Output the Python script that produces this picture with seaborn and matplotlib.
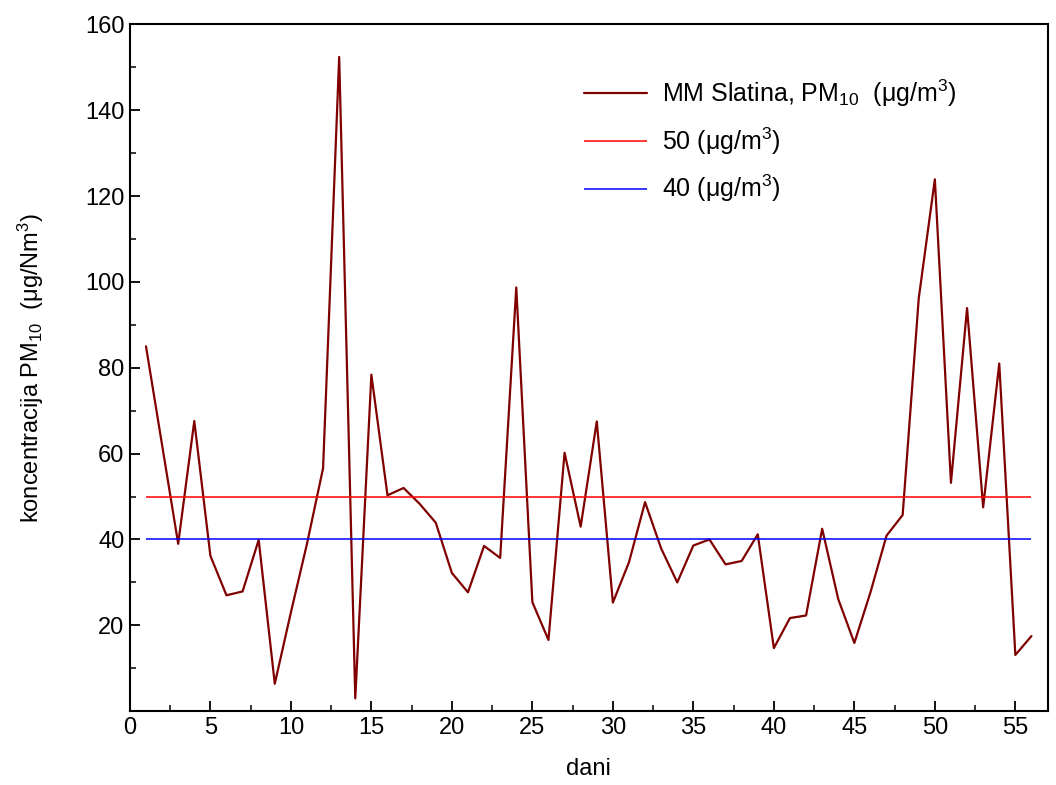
import seaborn as sns
import matplotlib.pyplot as plt
import pandas as pd
from matplotlib.ticker import MultipleLocator

# dnevne koncentracije PM10, MM Slatina (ocitano sa grafika)
dani = list(range(1, 57))
pm10 = [85.0, 62.0, 39.0, 67.6, 36.2, 27.0, 27.9, 39.9, 6.4, 23.0,
        39.0, 56.6, 152.4, 3.0, 78.4, 50.3, 52.0, 48.3, 43.9, 32.2,
        27.7, 38.5, 35.7, 98.7, 25.4, 16.6, 60.2, 43.0, 67.5, 25.3,
        34.7, 48.7, 37.9, 30.0, 38.6, 40.0, 34.2, 35.0, 41.2, 14.7,
        21.7, 22.3, 42.5, 26.1, 15.9, 27.7, 40.9, 45.7, 96.2, 123.9,
        53.2, 93.9, 47.5, 81.0, 13.1, 17.5]
granica_50 = 50
granica_40 = 40

df = pd.DataFrame({"dani": dani, "pm10": pm10})

sns.set_theme(style="ticks", rc={"text.color": "black", "axes.labelcolor": "black",
                                 "xtick.color": "black", "ytick.color": "black"})
plt.rcParams['font.family'] = ['Liberation Sans', 'DejaVu Sans']
plt.rcParams['mathtext.default'] = 'regular'
plt.rcParams['mathtext.fontset'] = 'custom'
plt.rcParams['mathtext.rm'] = 'Liberation Sans'

fig, ax = plt.subplots(figsize=(10.56, 7.85), dpi=100)
fig.subplots_adjust(left=0.123, right=0.992, top=0.969, bottom=0.094)

sns.lineplot(data=df, x="dani", y="pm10", color="#800000", linewidth=1.6,
             label="MM Slatina, PM$_{10}$  (μg/m$^3$)", ax=ax)
ax.hlines(granica_50, dani[0], dani[-1], color="#ff0000", linewidth=1.1,
          label="50 (μg/m$^3$)")
ax.hlines(granica_40, dani[0], dani[-1], color="#0000ff", linewidth=1.1,
          label="40 (μg/m$^3$)")

ax.set_xlim(0, 57)
ax.set_ylim(0, 160)
ax.xaxis.set_major_locator(MultipleLocator(5))
ax.xaxis.set_minor_locator(MultipleLocator(2.5))
ax.yaxis.set_major_locator(MultipleLocator(20))
ax.yaxis.set_minor_locator(MultipleLocator(10))
ax.set_yticks([20, 40, 60, 80, 100, 120, 140, 160])
ax.tick_params(which='major', direction='in', length=7, width=1.3, labelsize=17, pad=4)
ax.tick_params(which='minor', direction='in', length=4, width=1.1)
for s in ax.spines.values():
    s.set_linewidth(1.5)
    s.set_color('black')

ax.set_xlabel("dani", fontsize=17, labelpad=14)
ax.set_ylabel("koncentracija PM$_{10}$  (μg/Nm$^3$)", fontsize=17, labelpad=28)

ax.legend(loc='upper right', bbox_to_anchor=(0.925, 0.955), frameon=False,
          fontsize=18, handlelength=2.5, handletextpad=0.6, labelspacing=0.65)

plt.savefig("out.png", dpi=100)
plt.close()
